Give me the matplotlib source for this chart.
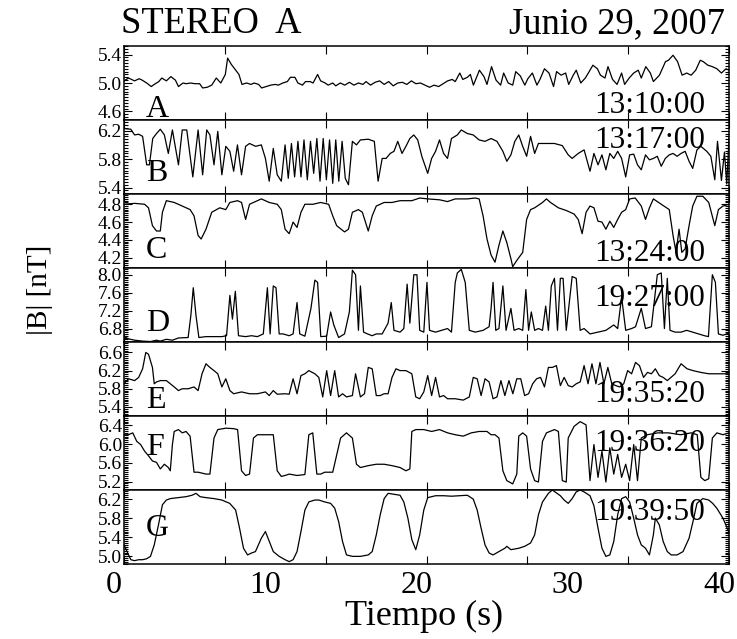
import numpy as np
import matplotlib
matplotlib.use("Agg")
import matplotlib.pyplot as plt
import matplotlib.transforms as mtransforms
from matplotlib.ticker import AutoMinorLocator, FormatStrFormatter

plt.rcParams['font.family'] = ['Liberation Serif', 'DejaVu Serif']

# ---------------- datos: (tiempo [s], |B| [nT]) por intervalo ----------------
panel_a = [(0.0,5.03),(0.3,5.07),(0.7,5.03),(1.0,5.06),(1.2,5.04),(1.5,5.00),(1.8,4.95),(2.0,4.98),(2.3,5.02),(2.5,5.07),
           (2.8,5.03),(3.1,5.09),(3.4,5.04),(3.6,4.95),(3.9,5.00),(4.1,4.99),(4.4,5.00),(4.7,4.99),(5.0,4.99),(5.2,4.93),
           (5.5,4.94),(5.8,4.97),(6.1,5.07),(6.4,5.00),(6.7,5.12),(6.85,5.35),(7.1,5.26),(7.35,5.19),(7.6,5.12),(7.8,4.98),
           (8.1,5.00),(8.4,4.98),(8.6,5.00),(8.9,4.98),(9.1,4.93),(9.4,4.95),(9.7,4.97),(10.0,4.98),(10.2,4.97),(10.5,5.00),
           (10.8,5.02),(11.0,5.08),(11.3,5.08),(11.5,5.00),(11.8,4.97),(12.0,5.02),(12.3,5.02),(12.5,5.00),(12.8,5.12),(13.0,5.03),
           (13.3,5.00),(13.5,4.97),(13.8,5.00),(14.0,4.96),(14.3,5.00),(14.6,4.97),(14.9,5.01),(15.2,4.97),(15.5,5.00),(15.8,4.98),
           (16.0,5.02),(16.3,4.97),(16.6,5.01),(16.9,5.03),(17.2,4.98),(17.5,5.02),(17.8,4.96),(18.1,5.00),(18.4,5.01),(18.7,4.98),
           (19.0,5.03),(19.3,4.99),(19.6,5.00),(19.9,4.97),(20.2,4.94),(20.5,4.97),(20.8,4.95),(21.1,4.99),(21.4,5.03),(21.7,5.05),
           (21.9,5.02),(22.2,5.14),(22.4,5.05),(22.7,5.08),(22.9,5.12),(23.1,4.97),(23.5,5.18),(23.8,5.09),(24.0,4.98),(24.3,5.23),
           (24.6,5.04),(24.9,4.97),(25.1,5.14),(25.4,5.00),(25.7,4.97),(25.9,5.16),(26.2,5.10),(26.5,4.97),(26.7,5.06),(27.0,5.14),
           (27.3,4.97),(27.5,5.05),(27.8,5.20),(28.1,5.14),(28.4,4.95),(28.6,5.16),(28.9,5.11),(29.2,5.14),(29.4,4.98),(29.7,5.11),
           (29.9,5.18),(30.2,5.00),(30.5,5.07),(30.7,5.14),(31.0,5.25),(31.3,5.20),(31.5,5.11),(31.8,5.07),(32.0,5.23),(32.3,5.05),
           (32.6,4.98),(32.9,5.14),(33.1,4.98),(33.4,5.07),(33.7,5.14),(34.0,5.18),(34.2,5.07),(34.5,5.23),(34.8,5.14),(35.0,5.02),
           (35.4,5.11),(35.8,5.30),(36.0,5.32),(36.3,5.39),(36.6,5.30),(36.9,5.11),(37.2,5.14),(37.5,5.11),(37.8,5.18),(38.1,5.32),
           (38.3,5.30),(38.6,5.25),(38.9,5.23),(39.2,5.20),(39.5,5.14),(39.8,5.20),(40.0,5.18)]

panel_b = [(0.0,6.23),(0.45,6.22),(0.7,6.14),(0.97,6.15),(1.23,6.12),(1.5,5.72),(1.68,5.72),(1.9,6.09),(2.15,6.16),(2.4,6.22),
           (2.67,6.14),(2.93,5.88),(3.2,6.21),(3.6,5.72),(3.85,6.21),(4.15,6.21),(4.55,5.55),(4.9,6.21),(5.2,5.58),(5.47,6.21),
           (5.68,6.14),(5.95,5.72),(6.2,6.19),(6.47,5.58),(6.73,5.98),(7.0,5.91),(7.25,5.63),(7.5,6.00),(7.77,5.58),(8.04,5.98),
           (8.3,6.02),(8.7,5.98),(9.08,6.00),(9.35,5.81),(9.6,5.49),(9.87,5.95),(10.13,5.58),(10.4,5.49),(10.65,6.00),(10.86,5.53),
           (11.07,6.02),(11.28,5.55),(11.5,6.05),(11.7,5.55),(11.9,6.07),(12.12,5.51),(12.33,6.05),(12.54,5.60),(12.75,6.09),(12.96,5.49),
           (13.17,6.09),(13.38,5.51),(13.59,6.07),(13.8,5.46),(14.0,6.07),(14.2,5.49),(14.42,6.05),(14.63,5.53),(14.84,5.44),(15.1,6.05),
           (15.37,6.00),(15.63,6.07),(16.15,6.08),(16.55,6.05),(16.8,5.49),(17.07,5.81),(17.33,5.81),(17.6,5.88),(17.85,5.91),(18.1,6.05),
           (18.38,5.88),(18.64,5.98),(18.9,6.09),(19.16,6.14),(19.42,6.07),(19.69,5.84),(20.08,5.60),(20.34,5.81),(20.6,5.91),(20.86,6.07),
           (21.13,5.88),(21.39,5.81),(21.65,6.09),(22.04,6.14),(22.3,6.21),(22.7,6.16),(23.09,6.14),(23.48,6.07),(23.87,6.05),(24.27,6.09),
           (24.66,6.05),(25.05,5.91),(25.31,5.77),(25.58,5.86),(25.84,6.05),(26.1,6.14),(26.36,5.98),(26.62,5.84),(26.88,6.12),(27.15,5.88),
           (27.4,6.02),(27.93,6.02),(28.46,6.02),(28.98,5.99),(29.37,5.86),(29.63,5.81),(30.03,5.88),(30.42,5.93),(30.81,5.63),(31.07,5.88),
           (31.34,5.72),(31.6,5.86),(31.86,5.65),(32.12,5.88),(32.38,5.81),(32.64,5.91),(32.9,5.81),(33.17,5.55),(33.43,5.86),(33.7,5.87),
           (33.95,5.72),(34.2,5.65),(34.48,5.86),(34.74,5.79),(35.0,5.81),(35.26,5.84),(35.52,5.70),(35.79,5.81),(36.05,5.86),(36.3,5.88),
           (36.57,5.84),(36.83,5.88),(37.1,5.91),(37.36,5.77),(37.6,5.67),(37.88,5.93),(38.14,5.98),(38.53,5.91),(38.8,5.84),(39.06,5.51),
           (39.24,6.05),(39.5,5.50),(39.7,5.90),(39.85,5.45),(40.0,6.10)]

panel_c = [(0.0,4.80),(0.7,4.81),(1.36,4.80),(1.62,4.76),(1.88,4.56),(2.15,4.50),(2.4,4.50),(2.54,4.71),(2.8,4.84),(3.32,4.82),
           (3.85,4.78),(4.37,4.74),(4.63,4.67),(4.9,4.45),(5.1,4.41),(5.42,4.52),(5.8,4.71),(6.33,4.76),(6.73,4.74),(7.0,4.82),
           (7.51,4.84),(7.77,4.82),(8.04,4.63),(8.3,4.80),(8.82,4.84),(9.08,4.86),(9.6,4.82),(10.13,4.80),(10.4,4.74),(10.65,4.52),
           (10.92,4.47),(11.18,4.60),(11.44,4.54),(11.7,4.71),(11.96,4.80),(12.5,4.80),(13.0,4.82),(13.53,4.80),(13.8,4.67),(14.06,4.56),
           (14.58,4.49),(14.84,4.52),(15.1,4.71),(15.5,4.74),(15.76,4.71),(16.15,4.50),(16.41,4.67),(16.68,4.78),(17.2,4.82),(17.72,4.82),
           (18.25,4.84),(19.03,4.84),(19.55,4.87),(20.08,4.86),(20.86,4.85),(21.39,4.83),(21.9,4.86),(22.7,4.86),(23.22,4.87),(23.48,4.86),
           (23.74,4.67),(24.0,4.41),(24.27,4.23),(24.53,4.15),(24.79,4.34),(25.05,4.50),(25.31,4.37),(25.58,4.19),(25.7,4.10),(25.97,4.17),
           (26.36,4.26),(26.62,4.63),(26.88,4.74),(27.15,4.76),(27.67,4.82),(27.93,4.86),(28.2,4.82),(28.72,4.76),(29.24,4.73),(29.76,4.69),
           (30.03,4.63),(30.29,4.47),(30.55,4.71),(30.81,4.78),(31.07,4.76),(31.34,4.61),(31.6,4.60),(31.86,4.52),(32.12,4.61),(32.38,4.54),
           (32.64,4.63),(32.9,4.71),(33.17,4.74),(33.43,4.86),(33.8,4.87),(34.2,4.78),(34.48,4.63),(34.74,4.76),(35.0,4.86),(35.52,4.80),
           (36.05,4.74),(36.3,4.45),(36.5,4.26),(36.7,4.52),(36.88,4.26),(37.1,4.30),(37.36,4.56),(37.6,4.78),(37.88,4.89),(38.27,4.89),
           (38.66,4.82),(39.06,4.56),(39.3,4.74),(39.6,4.78),(40.0,4.80)]

panel_d = [(0.0,6.62),(0.3,6.57),(0.7,6.54),(1.23,6.52),(1.75,6.51),(2.15,6.54),(2.4,6.52),(2.8,6.56),(3.2,6.54),(3.6,6.59),
           (4.24,6.60),(4.42,7.09),(4.58,7.71),(4.76,7.09),(4.95,6.60),(5.42,6.62),(5.95,6.62),(6.47,6.62),(6.78,6.64),(7.0,7.54),
           (7.17,7.01),(7.36,7.63),(7.57,6.64),(8.04,6.62),(8.43,6.64),(8.82,6.62),(9.21,6.68),(9.48,7.71),(9.66,6.68),(9.87,7.75),
           (10.05,7.71),(10.26,6.68),(10.52,6.68),(10.92,6.64),(11.18,6.68),(11.44,7.38),(11.62,6.68),(11.96,6.63),(12.36,7.25),(12.62,7.88),
           (12.8,7.83),(13.01,6.62),(13.4,6.63),(13.66,7.17),(13.87,6.88),(14.19,6.60),(14.58,6.68),(14.9,7.17),(15.1,8.10),(15.31,8.00),
           (15.5,6.76),(15.63,7.75),(15.84,6.72),(16.1,6.68),(16.41,6.64),(16.68,6.68),(17.07,6.68),(17.46,6.92),(17.67,7.38),(17.85,6.76),
           (18.25,6.72),(18.5,6.80),(18.72,7.79),(18.9,6.92),(19.16,8.00),(19.37,8.00),(19.55,6.76),(19.82,6.72),(20.03,7.83),(20.2,6.76),
           (20.6,6.72),(21.0,6.76),(21.39,6.80),(21.65,6.72),(21.9,7.83),(22.04,8.04),(22.3,8.12),(22.56,7.83),(22.83,6.76),(23.22,6.72),
           (23.74,6.76),(24.14,6.84),(24.27,7.25),(24.4,7.83),(24.58,6.76),(24.79,6.80),(25.05,7.75),(25.26,6.76),(25.58,7.25),(25.79,6.76),
           (26.1,6.80),(26.36,6.76),(26.57,7.67),(26.75,6.76),(26.93,7.17),(27.15,6.76),(27.4,6.80),(27.67,6.76),(27.88,7.30),(28.06,6.76),
           (28.25,7.75),(28.46,7.92),(28.66,6.76),(28.85,7.92),(29.03,7.92),(29.24,6.76),(29.63,7.96),(29.9,7.92),(30.16,6.76),(30.42,6.80),
           (30.81,6.68),(31.34,6.72),(31.86,6.76),(32.38,6.88),(32.64,6.80),(32.9,7.50),(33.17,6.76),(33.56,6.80),(33.82,6.84),(34.2,7.25),
           (34.48,6.80),(34.87,6.84),(35.26,8.00),(35.52,8.04),(35.73,6.80),(35.92,7.92),(36.1,6.76),(36.44,6.72),(36.83,6.72),(37.2,6.76),
           (37.6,6.72),(37.98,6.68),(38.38,6.64),(38.64,6.62),(38.9,8.00),(39.1,7.83),(39.3,6.68),(39.6,6.65),(40.0,6.70)]

panel_e = [(0.0,5.91),(0.3,6.02),(0.7,5.98),(0.97,6.05),(1.23,6.24),(1.44,6.60),(1.62,6.56),(1.88,6.27),(2.0,5.91),(2.15,5.95),
           (2.4,5.98),(2.8,5.98),(3.06,5.91),(3.32,5.84),(3.6,5.76),(3.85,5.80),(4.24,5.80),(4.63,5.84),(4.9,5.76),(5.16,6.13),
           (5.42,6.35),(5.68,6.27),(5.95,6.20),(6.2,6.13),(6.47,5.84),(6.73,6.02),(7.0,5.76),(7.25,5.69),(7.77,5.73),(8.3,5.69),
           (8.82,5.69),(9.35,5.73),(9.6,5.65),(9.87,5.76),(10.13,5.68),(10.65,5.69),(10.92,5.68),(11.18,6.02),(11.44,5.69),(11.7,6.09),
           (11.96,6.13),(12.22,6.20),(12.62,6.13),(12.88,6.05),(13.14,5.62),(13.4,6.20),(13.66,5.65),(13.93,6.20),(14.19,5.62),(14.45,5.69),
           (14.71,5.62),(15.1,5.65),(15.31,6.13),(15.63,5.62),(15.9,5.69),(16.15,6.27),(16.41,6.24),(16.68,5.65),(16.94,5.65),(17.2,5.69),
           (17.46,5.69),(17.72,6.05),(17.98,6.24),(18.25,6.20),(18.64,6.20),(19.03,6.13),(19.29,5.62),(19.55,5.58),(19.82,5.73),(20.08,6.09),
           (20.34,5.65),(20.6,6.05),(20.86,5.62),(21.13,5.65),(21.39,5.58),(21.9,5.58),(22.43,5.55),(22.83,5.62),(23.09,6.05),(23.35,6.02),
           (23.61,5.65),(23.87,6.02),(24.14,5.95),(24.4,5.58),(24.66,5.62),(24.92,5.98),(25.18,5.65),(25.45,5.98),(25.71,5.69),(25.97,6.02),
           (26.23,6.02),(26.49,5.65),(26.75,5.69),(27.02,5.91),(27.28,6.02),(27.54,6.05),(27.8,5.84),(28.06,6.27),(28.32,6.27),(28.59,6.31),
           (28.85,5.87),(29.1,6.05),(29.37,5.87),(29.63,5.84),(29.9,5.91),(30.16,5.95),(30.42,6.31),(30.68,5.91),(30.94,6.35),(31.2,5.91),
           (31.47,6.38),(31.73,5.91),(31.99,6.27),(32.25,5.91),(32.51,5.87),(32.77,5.84),(33.04,5.91),(33.3,6.20),(33.56,6.13),(33.82,6.38),
           (34.08,6.31),(34.35,6.05),(34.61,6.16),(34.87,6.13),(35.13,6.24),(35.39,6.09),(35.65,6.05),(35.92,5.98),(36.44,6.13),(36.83,6.35),
           (37.23,6.24),(37.62,6.20),(38.14,6.16),(38.66,6.13),(39.19,6.13),(40.0,6.13)]

panel_f = [(0.0,6.20),(0.3,6.20),(0.58,6.24),(0.84,6.06),(1.1,5.99),(1.36,5.85),(1.62,5.75),(1.88,5.64),(2.15,5.61),(2.4,5.47),
           (2.67,5.57),(2.93,5.50),(3.06,5.43),(3.2,5.99),(3.32,6.27),(3.6,6.31),(3.85,6.24),(4.1,6.27),(4.37,6.17),(4.63,5.40),
           (4.9,5.40),(5.16,5.38),(5.42,5.36),(5.68,5.36),(5.95,6.13),(6.2,6.31),(6.73,6.34),(7.25,6.33),(7.51,6.31),(7.77,5.43),
           (8.04,5.33),(8.3,5.36),(8.56,6.13),(8.82,6.20),(9.35,6.20),(9.87,6.20),(10.13,5.43),(10.4,5.31),(10.65,5.33),(10.92,5.36),
           (11.44,5.33),(11.96,5.35),(12.22,6.20),(12.48,6.24),(12.75,5.36),(13.01,5.36),(13.27,5.40),(13.8,5.40),(14.32,6.13),(14.71,6.24),
           (15.1,6.13),(15.37,5.57),(15.63,5.50),(16.15,5.54),(16.68,5.57),(17.2,5.57),(17.72,5.54),(18.25,5.50),(18.64,5.43),(18.9,5.47),
           (19.03,6.27),(19.29,6.31),(19.82,6.31),(20.34,6.27),(20.86,6.31),(21.39,6.24),(21.9,6.20),(22.43,6.17),(22.96,6.24),(23.48,6.27),
           (24.0,6.27),(24.27,6.20),(24.53,6.20),(24.79,6.13),(25.05,5.43),(25.31,5.22),(25.7,5.15),(25.97,5.36),(26.1,6.17),(26.36,6.24),
           (26.62,6.17),(26.88,5.47),(27.15,5.22),(27.4,5.19),(27.67,6.06),(27.93,6.24),(28.46,6.31),(28.72,6.27),(28.98,5.22),(29.24,5.19),
           (29.37,6.13),(29.76,6.38),(30.16,6.48),(30.55,6.41),(30.81,5.22),(31.07,5.99),(31.34,5.29),(31.6,5.85),(31.86,5.19),(32.12,5.92),
           (32.38,5.36),(32.64,5.78),(32.9,5.29),(33.17,5.57),(33.43,5.22),(33.7,5.99),(33.95,5.22),(34.2,6.13),(34.6,6.20),(35.3,6.24),
           (36.0,6.24),(36.8,6.20),(37.5,6.24),(37.9,6.20),(38.14,5.29),(38.4,5.22),(38.66,5.26),(38.9,6.13),(39.2,6.24),(39.6,6.20),
           (40.0,6.24)]

panel_g = [(0.0,5.24),(0.2,5.10),(0.45,4.93),(0.7,4.91),(0.97,4.93),(1.23,4.93),(1.5,4.95),(1.75,5.00),(2.0,5.24),(2.28,5.66),
           (2.54,6.08),(2.8,6.18),(3.06,6.21),(3.6,6.23),(4.1,6.25),(4.5,6.28),(4.76,6.32),(5.03,6.25),(5.42,6.23),(5.95,6.21),
           (6.47,6.18),(6.99,6.11),(7.38,5.97),(7.64,5.59),(7.9,5.17),(8.17,5.03),(8.43,5.07),(8.69,5.10),(9.08,5.38),(9.35,5.52),
           (9.61,5.31),(9.87,5.10),(10.26,5.00),(10.65,4.93),(10.92,4.89),(11.18,4.93),(11.44,5.10),(11.7,5.52),(11.96,5.97),(12.22,6.14),
           (12.62,6.18),(12.88,6.18),(13.27,6.14),(13.66,6.11),(13.93,6.01),(14.19,5.73),(14.45,5.31),(14.71,5.03),(15.1,5.00),(15.63,5.00),
           (16.15,5.03),(16.41,5.10),(16.68,5.45),(16.94,5.87),(17.2,6.21),(17.46,6.32),(17.85,6.30),(18.25,6.28),(18.5,6.14),(18.77,5.80),
           (19.03,5.35),(19.29,5.14),(19.55,5.45),(19.82,5.97),(20.08,6.23),(20.6,6.27),(21.13,6.27),(21.65,6.26),(22.17,6.27),(22.7,6.28),
           (23.09,6.20),(23.35,5.97),(23.61,5.59),(23.87,5.24),(24.14,5.07),(24.4,5.03),(24.79,5.10),(25.18,5.17),(25.31,5.21),(25.58,5.14),
           (26.1,5.17),(26.49,5.21),(26.88,5.28),(27.15,5.45),(27.4,5.87),(27.67,6.14),(28.06,6.32),(28.32,6.39),(28.85,6.27),(29.1,6.18),
           (29.37,6.11),(29.63,6.21),(29.9,6.35),(30.16,6.39),(30.42,6.35),(30.81,6.27),(31.07,6.06),(31.34,5.59),(31.6,5.17),(31.86,5.00),
           (32.12,5.03),(32.38,5.31),(32.64,5.87),(32.9,6.21),(33.17,6.25),(33.43,6.14),(33.7,5.80),(33.95,5.45),(34.2,5.24),(34.48,5.17),
           (34.74,5.03),(35.0,5.45),(35.13,5.80),(35.39,5.66),(35.65,5.31),(35.92,5.10),(36.18,5.03),(36.57,5.03),(36.96,5.10),(37.36,5.38),
           (37.62,5.73),(37.88,6.11),(38.27,6.21),(38.66,6.18),(38.92,6.11),(39.19,6.01),(39.6,5.80),(40.0,5.50)]

series = [panel_a, panel_b, panel_c, panel_d, panel_e, panel_f, panel_g]
letters = ['A', 'B', 'C', 'D', 'E', 'F', 'G']
stamps = ['13:10:00', '13:17:00', '13:24:00', '19:27:00', '19:35:20', '19:36:20', '19:39:50']
y_limits = [(4.48, 5.52), (5.31, 6.35), (4.085, 4.915), (6.50, 8.15),
            (5.20, 6.83), (5.02, 6.60), (4.84, 6.39)]
y_ticks = [[4.6, 5.0, 5.4], [5.4, 5.8, 6.2], [4.2, 4.4, 4.6, 4.8], [6.8, 7.2, 7.6, 8.0],
           [5.4, 5.8, 6.2, 6.6], [5.2, 5.6, 6.0, 6.4], [5.0, 5.4, 5.8, 6.2]]
x_labels = [0, 10, 20, 30, 40]

# posicion vertical (fraccion del panel) de la letra y de la hora
letter_y = [0.04, 0.17, 0.14, 0.15, 0.11, 0.47, 0.38]
stamp_y = [0.10, 0.62, 0.10, 0.49, 0.19, 0.53, 0.60]

fig = plt.figure(figsize=(7.37, 6.39), dpi=100)
axes = fig.subplots(7, 1, sharex=True, gridspec_kw=dict(hspace=0))
fig.subplots_adjust(left=124/737, right=729/737, top=1-46/639, bottom=1-564/639)

for i, ax in enumerate(axes):
    t, b = np.array(series[i]).T
    ax.plot(t, b, color='black', lw=0.9)
    ax.set_xlim(0, 40)
    ax.set_ylim(*y_limits[i])
    ax.set_yticks(y_ticks[i])
    ax.yaxis.set_major_formatter(FormatStrFormatter('%.1f'))
    ax.yaxis.set_minor_locator(AutoMinorLocator(10))
    ax.set_xticks(np.linspace(0, 40, 7))
    ax.tick_params(which='both', direction='in', left=True, right=True,
                   top=True, bottom=True, labelbottom=False, width=0.8)
    ax.tick_params(which='major', length=6, labelsize=14, pad=1.5)
    ax.tick_params(which='minor', length=3)
    for sp in ax.spines.values():
        sp.set_linewidth(1.1)
    ax.text(0.036, letter_y[i], letters[i], transform=ax.transAxes,
            fontsize=23, ha='left', va='baseline')
    ax.text(0.96, stamp_y[i], stamps[i], transform=ax.transAxes,
            fontsize=22.5, ha='right', va='baseline')

# etiquetas del eje de tiempo bajo el ultimo panel
bottom = axes[-1]
lab_tr = mtransforms.offset_copy(bottom.get_xaxis_transform(), fig=fig,
                                 x=-10, y=-29, units='dots')
for v in x_labels:
    bottom.text(v, 0, str(v), transform=lab_tr, ha='center', va='baseline', fontsize=23)

fig.text(424/737, 1-625/639, 'Tiempo (s)', ha='center', va='baseline', fontsize=26)
fig.text(40/737, 1-290/639, '|B| [nT]', rotation=90, ha='center', va='center', fontsize=21)
fig.text(121/737, 1-33/639, 'STEREO  A', ha='left', va='baseline', fontsize=26.3)
fig.text(725/737, 1-33/639, 'Junio 29, 2007', ha='right', va='baseline', fontsize=26.3)

fig.savefig('out.png', dpi=100)
